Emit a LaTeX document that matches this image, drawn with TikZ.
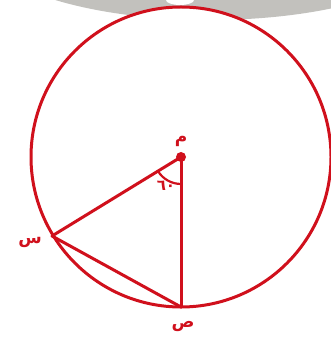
\documentclass[tikz,border=0pt]{standalone}
\usepackage{fontspec}
\usetikzlibrary{calc}
\newfontfamily\arabicfont[Script=Arabic]{DejaVu Sans}
\TeXXeTstate=1
\definecolor{geored}{HTML}{D0101C}
\definecolor{capgrey}{HTML}{C2C1BD}
\begin{document}
\begin{tikzpicture}[x=1pt,y=-1pt,
  geoline/.style={geored,line width=3pt,line cap=round},
  lbl/.style={geored,font=\arabicfont\bfseries\fontsize{17}{17}\selectfont,inner sep=0pt}]
\useasboundingbox (0,0) rectangle (330,344);
\fill[capgrey] (210,-60) ellipse [x radius=234, y radius=80];
\fill[white] (180,0) ellipse [x radius=14, y radius=5];
\coordinate (O) at (181,157);
\coordinate (S) at (52,236);
\coordinate (P) at (181,307);
\draw[geoline,fill=white] (O) circle [radius=150];
\draw[geoline] (O) -- (S);
\draw[geoline] (O) -- (P);
\draw[geoline] (S) -- (P);
\draw[geored,line width=2.2pt] ($(O)!27pt!(S)$) arc [start angle=148.5, end angle=90, radius=27];
\fill[geored] (O) circle [radius=5];
\node[lbl] (m) at (181,141) {\beginR م\endR};
\node[lbl] (s) at (30,242) {\beginR س\endR};
\node[lbl] (p) at (183,326) {\beginR ص\endR};
\node[geored,font=\arabicfont\bfseries\fontsize{15}{15}\selectfont,inner sep=0pt] (ang) at (166,186) {٦٠};
\end{tikzpicture}
\end{document}
